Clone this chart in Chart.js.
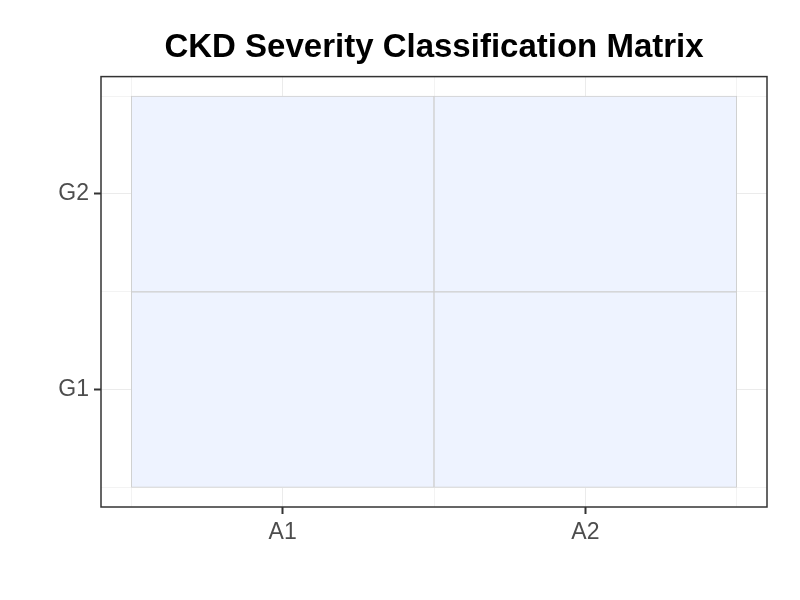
<!DOCTYPE html>
<html>
<head>
<meta charset="utf-8">
<script src="https://cdn.jsdelivr.net/npm/chart.js@4"></script>
<style>
  html, body { margin: 0; padding: 0; background: #ffffff; }
  #wrap { width: 800px; height: 600px; }
</style>
</head>
<body>
<div id="wrap"><canvas id="ckdChart"></canvas></div>
<script>
// matrix categories
const albuminuria = ['A1', 'A2'];
const gfrStages = ['G1', 'G2'];
// cell values per GFR row (all cells fall in the same severity band)
const cellsG1 = [1, 1];
const cellsG2 = [1, 1];
const tileColor = '#EEF3FF';

const rowData = [cellsG1, cellsG2];

// each GFR row is one dataset of floating bars spanning row +/- 0.5
const datasets = gfrStages.map((stage, r) => ({
    label: stage,
    data: albuminuria.map((col, c) => ({ x: c + 1, y: [r + 0.5, r + 1.5], v: rowData[r][c] })),
    backgroundColor: tileColor,
    borderColor: '#cfcfcf',
    borderWidth: 1,
    borderSkipped: false,
    barThickness: 'flex',
    barPercentage: 1,
    categoryPercentage: 1,
    stack: 'matrix'
}));

const isMajor = (ctx) => !!(ctx && ctx.tick && Number.isInteger(ctx.tick.value));

// panel border like theme_bw
const panelBorder = {
    id: 'panelBorder',
    afterDraw(chart) {
        const { ctx, chartArea: a } = chart;
        ctx.save();
        ctx.strokeStyle = '#333333';
        ctx.lineWidth = 1.5;
        ctx.strokeRect(a.left, a.top, a.right - a.left, a.bottom - a.top);
        ctx.restore();
    }
};

const axisCommon = (labels) => ({
    type: 'linear',
    min: 0.4,
    max: 2.6,
    offset: false,
    stacked: false,
    afterBuildTicks: (scale) => {
        scale.ticks = [0.5, 1, 1.5, 2, 2.5].map(v => ({ value: v }));
    },
    ticks: {
        autoSkip: false,
        padding: 5,
        color: '#4D4D4D',
        font: { family: 'Liberation Sans', size: 23 },
        callback: (value) => Number.isInteger(value) ? labels[value - 1] : ''
    },
    grid: {
        offset: false,
        color: (ctx) => isMajor(ctx) ? '#EBEBEB' : '#F3F3F3',
        lineWidth: 1,
        tickLength: 7,
        tickWidth: 2,
        tickColor: (ctx) => isMajor(ctx) ? '#333333' : 'rgba(0,0,0,0)'
    },
    border: { display: false }
});

const xScale = axisCommon(albuminuria);
delete xScale.stacked;
xScale.afterFit = (scale) => { scale.height = 93; };
const yScale = axisCommon(gfrStages);
yScale.afterFit = (scale) => { scale.width = 101; };

new Chart(document.getElementById('ckdChart'), {
    type: 'bar',
    data: { datasets: datasets },
    options: {
        responsive: true,
        maintainAspectRatio: false,
        animation: false,
        layout: { padding: { top: 0, right: 33, bottom: 0, left: 0 } },
        scales: { x: xScale, y: yScale },
        plugins: {
            legend: { display: false },
            tooltip: { enabled: false },
            title: {
                display: true,
                text: 'CKD Severity Classification Matrix',
                fullSize: false,
                color: '#000000',
                font: { family: 'Liberation Sans', size: 33, weight: 'bold' },
                padding: { top: 28, bottom: 9 }
            }
        }
    },
    plugins: [panelBorder]
});
</script>
</body>
</html>
